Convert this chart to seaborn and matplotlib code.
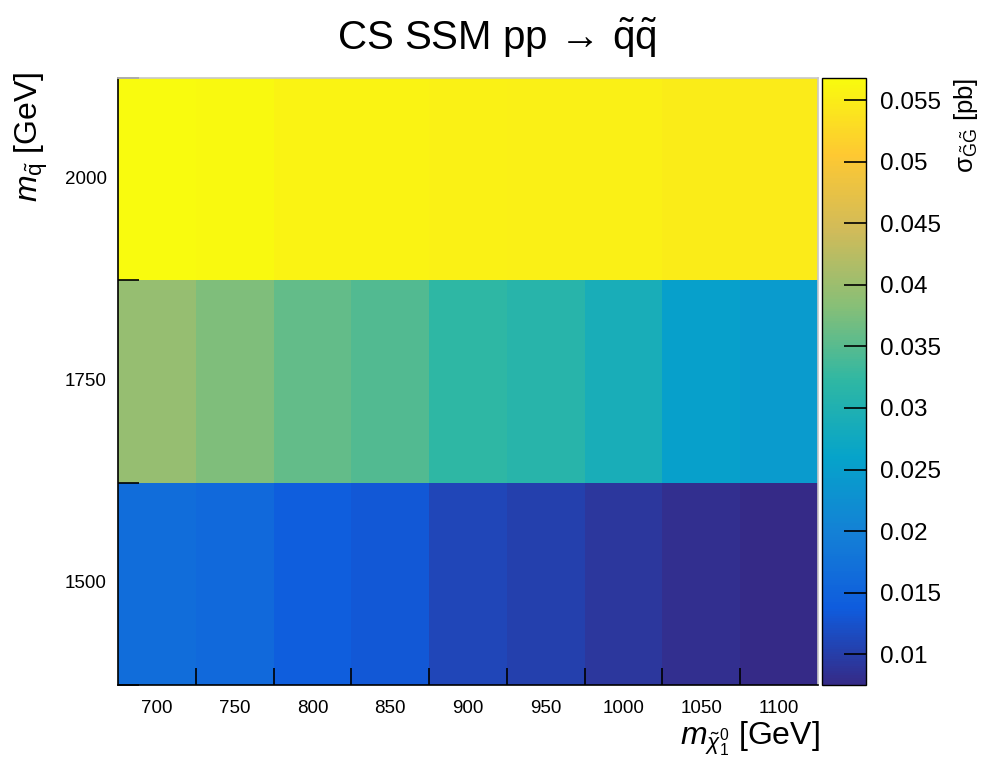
import numpy as np
import pandas as pd
import matplotlib
matplotlib.use("Agg")
import matplotlib.pyplot as plt
import seaborn as sns
from matplotlib.colors import LinearSegmentedColormap

# ---------------- data ----------------
neutralino_mass = [700, 750, 800, 850, 900, 950, 1000, 1050, 1100]
squark_mass = [2000, 1750, 1500]
xsec_2000 = [0.0568, 0.0566, 0.0558, 0.0557, 0.0556, 0.0554, 0.0553, 0.0549, 0.0548]
xsec_1750 = [0.0395, 0.0378, 0.0359, 0.0346, 0.0322, 0.0311, 0.0289, 0.0254, 0.0245]
xsec_1500 = [0.0167, 0.0159, 0.0142, 0.0132, 0.0111, 0.0104, 0.0091, 0.0082, 0.0075]
cbar_ticks = [0.01, 0.015, 0.02, 0.025, 0.03, 0.035, 0.04, 0.045, 0.05, 0.055]
cbar_ticklabels = ["0.01", "0.015", "0.02", "0.025", "0.03", "0.035", "0.04", "0.045", "0.05", "0.055"]

df = pd.DataFrame([xsec_2000, xsec_1750, xsec_1500],
                  index=squark_mass, columns=neutralino_mass)

# ROOT kBird palette
stops = [0.0, 0.125, 0.25, 0.375, 0.5, 0.625, 0.75, 0.875, 1.0]
red = [0.2082, 0.0592, 0.0780, 0.0232, 0.1802, 0.5301, 0.8186, 0.9956, 0.9764]
green = [0.1664, 0.3599, 0.5041, 0.6419, 0.7178, 0.7492, 0.7328, 0.7862, 0.9832]
blue = [0.5293, 0.8684, 0.8385, 0.7914, 0.6425, 0.4662, 0.3499, 0.1968, 0.0539]
kbird = LinearSegmentedColormap.from_list(
    "kbird", list(zip(stops, zip(red, green, blue))), N=255)

sns.set_theme(style="white")
plt.rcParams["font.family"] = ["Liberation Sans", "DejaVu Sans"]
plt.rcParams["mathtext.fontset"] = "custom"
plt.rcParams["mathtext.rm"] = "Liberation Sans"
plt.rcParams["mathtext.it"] = "Liberation Sans:italic"
plt.rcParams["mathtext.bf"] = "Liberation Sans:bold"
plt.rcParams["text.color"] = "black"
plt.rcParams["xtick.color"] = "black"
plt.rcParams["ytick.color"] = "black"
plt.rcParams["xtick.labelcolor"] = "black"
plt.rcParams["ytick.labelcolor"] = "black"
plt.rcParams["axes.axisbelow"] = False

W, H = 994, 766
fig = plt.figure(figsize=(W / 100, H / 100), dpi=100)
ax = fig.add_axes([118 / W, 1 - 685 / H, 700 / W, 607 / H])
cax = fig.add_axes([822 / W, 1 - 685 / H, 44 / W, 607 / H])

vmin = min(min(xsec_1500), min(xsec_1750), min(xsec_2000))
vmax = max(max(xsec_1500), max(xsec_1750), max(xsec_2000))
sns.heatmap(df, ax=ax, cbar_ax=cax, cmap=kbird, vmin=vmin, vmax=vmax,
            cbar_kws={"ticks": cbar_ticks})
ax.set_axisbelow(False)
cax.set_axisbelow(False)

# main axes frame
for side, sp in ax.spines.items():
    sp.set_visible(True)
    sp.set_linewidth(1.2)
    sp.set_color("black" if side in ("left", "bottom") else "#c8c8c8")
    sp.set_zorder(5)

ax.set_xlabel("")
ax.set_ylabel("")
ax.set_xticklabels([str(v) for v in neutralino_mass], rotation=0, fontsize=13.5)
ax.set_yticklabels([str(v) for v in squark_mass], rotation=0, fontsize=13.5)
ax.tick_params(axis="both", which="major", length=0)
ax.tick_params(axis="x", which="major", pad=11)
ax.tick_params(axis="y", which="major", pad=8)
ax.set_xticks(np.arange(1, len(neutralino_mass)), minor=True)
ax.set_yticks(np.arange(0, len(squark_mass) + 1), minor=True)
ax.tick_params(axis="x", which="minor", direction="in", length=12, width=1.2,
               bottom=True, color="black")
ax.tick_params(axis="y", which="minor", direction="in", length=15, width=1.2,
               left=True, color="black")

# colorbar
cb = ax.collections[0].colorbar
cb.outline.set_visible(True)
cb.outline.set_linewidth(1.0)
cb.outline.set_edgecolor("black")
cax.yaxis.set_ticks_position("right")
cax.set_yticks(cbar_ticks)
cax.set_yticklabels(cbar_ticklabels)
cax.tick_params(axis="y", which="major", direction="in", length=16, width=1.2,
                labelsize=17.5, pad=10, color="black", right=True)
cax.tick_params(axis="y", which="minor", length=0)

# texts
fig.text(0.5, 1 - 38 / H, r"CS SSM pp$\,\rightarrow\,\tilde{\mathrm{q}}\tilde{\mathrm{q}}$",
         ha="center", va="center", fontsize=29)
fig.text(820 / W, 1 - 745 / H, r"$m_{\tilde{\chi}^{0}_{1}}$ [GeV]",
         ha="right", va="baseline", fontsize=23)
fig.text(31 / W, 1 - 72 / H, r"$m_{\tilde{\mathrm{q}}}$ [GeV]",
         ha="center", va="top", rotation=90, fontsize=23)
fig.text(966 / W, 1 - 78 / H, r"σ$_{\tilde{\mathrm{G}}\tilde{\mathrm{G}}}$ [pb]",
         ha="center", va="top", rotation=90, fontsize=18.5)

fig.savefig("out.png", dpi=100)
